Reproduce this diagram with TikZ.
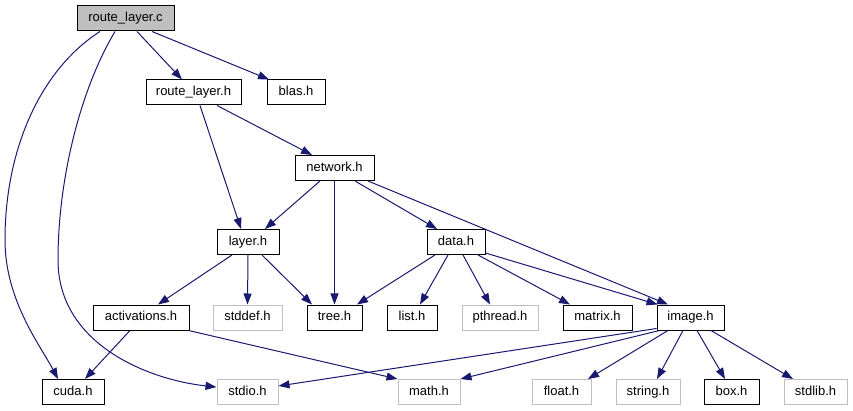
\documentclass[tikz,border=0pt]{standalone}
\usepackage{fontspec}
\setmainfont{Liberation Sans}
\usetikzlibrary{arrows.meta}
\definecolor{edgeblue}{HTML}{191970}
\definecolor{lightgray}{HTML}{BFBFBF}
\tikzset{
  filebox/.style={draw=black, line width=1pt, minimum height=25pt, inner sep=0pt, font=\fontsize{13}{15}\selectfont, text height=9.5pt, text depth=2.8pt},
  sysbox/.style={filebox, draw=lightgray},
  rootbox/.style={filebox, fill=lightgray},
  edge/.style={draw=edgeblue, line width=1pt, -{Triangle[length=11pt,width=8pt]}},
}
\begin{document}
\begin{tikzpicture}[x=1pt,y=-1pt]
\useasboundingbox (0,0) rectangle (853,411);
\node[rootbox, minimum width=97pt] (rlc) at (125.5,18.5) {route\_layer.c};
\node[filebox, minimum width=95pt] (rlh) at (193.5,92.5) {route\_layer.h};
\node[filebox, minimum width=58pt] (blas) at (296,92.5) {blas.h};
\node[filebox, minimum width=79pt] (net) at (334.5,168) {network.h};
\node[filebox, minimum width=62pt] (layer) at (248,242) {layer.h};
\node[filebox, minimum width=58pt] (data) at (456,242) {data.h};
\node[filebox, minimum width=96pt] (act) at (141,317.5) {activations.h};
\node[sysbox, minimum width=69pt] (stddef) at (247.5,317.5) {stddef.h};
\node[filebox, minimum width=55pt] (tree) at (334.5,317.5) {tree.h};
\node[filebox, minimum width=50pt] (list) at (412,317.5) {list.h};
\node[sysbox, minimum width=76pt] (pthread) at (500,317.5) {pthread.h};
\node[filebox, minimum width=69pt] (matrix) at (597.5,317.5) {matrix.h};
\node[filebox, minimum width=67pt] (image) at (690.5,317.5) {image.h};
\node[filebox, minimum width=62pt] (cuda) at (73,392) {cuda.h};
\node[sysbox, minimum width=61pt] (stdio) at (247.5,392) {stdio.h};
\node[sysbox, minimum width=62pt] (math) at (429,392) {math.h};
\node[sysbox, minimum width=59pt] (float) at (561.5,392) {float.h};
\node[sysbox, minimum width=64pt] (string) at (648,392) {string.h};
\node[filebox, minimum width=55pt] (box) at (731.5,392) {box.h};
\node[sysbox, minimum width=63pt] (stdlib) at (815.5,392) {stdlib.h};
% route_layer.c
\draw[edge] ([xshift=11.5pt]rlc.south) -- ([xshift=-11.5pt]rlh.north);
\draw[edge] ([xshift=26.5pt]rlc.south) -- ([xshift=-27pt]blas.north);
\draw[edge] ([xshift=-25.5pt]rlc.south) .. controls (40,70) and (5,150) .. (5,240) .. controls (5,300) and (40,345) .. ([xshift=-15pt]cuda.north);
\draw[edge] ([xshift=-10.5pt]rlc.south) .. controls (80,90) and (58,180) .. (58,260) .. controls (58,345) and (150,380) .. ([yshift=5pt]stdio.west);
% route_layer.h
\draw[edge] ([xshift=6.5pt]rlh.south) -- ([xshift=-7pt]layer.north);
\draw[edge] ([xshift=23.5pt]rlh.south) -- ([xshift=-22.5pt]net.north);
% network.h
\draw[edge] ([xshift=-14.5pt]net.south) -- ([xshift=17pt]layer.north);
\draw[edge] (net.south) -- (tree.north);
\draw[edge] ([xshift=20.5pt]net.south) -- ([xshift=-19pt]data.north);
\draw[edge] ([xshift=33.5pt]net.south) -- ([xshift=-22.5pt]image.north);
% data.h
\draw[edge] ([xshift=-21pt]data.south) -- ([xshift=22.5pt]tree.north);
\draw[edge] ([xshift=-8pt]data.south) -- ([xshift=8pt]list.north);
\draw[edge] ([xshift=7pt]data.south) -- ([xshift=-10pt]pthread.north);
\draw[edge] ([xshift=22pt]data.south) -- ([xshift=-27.5pt]matrix.north);
\draw[edge] ([yshift=2pt]data.south east) -- ([xshift=1pt]image.north west);
% layer.h
\draw[edge] ([xshift=-16pt]layer.south) -- ([xshift=17pt]act.north);
\draw[edge] (layer.south) -- (stddef.north);
\draw[edge] ([xshift=14pt]layer.south) -- ([xshift=-22.5pt]tree.north);
% activations.h
\draw[edge] ([xshift=-11pt]act.south) -- ([xshift=12pt]cuda.north);
\draw[edge] ([xshift=-1pt]act.south east) -- (math.north west);
% image.h
\draw[edge] ([yshift=2pt]image.south west) -- ([yshift=6pt]stdio.east);
\draw[edge] ([xshift=3pt]image.south west) -- (math.north east);
\draw[edge] ([xshift=-22.5pt]image.south) -- ([xshift=26.5pt]float.north);
\draw[edge] ([xshift=-7.5pt]image.south) -- ([xshift=9pt]string.north);
\draw[edge] ([xshift=6.5pt]image.south) -- ([xshift=-6.5pt]box.north);
\draw[edge] ([xshift=20.5pt]image.south) -- ([xshift=-22.5pt]stdlib.north);
\end{tikzpicture}
\end{document}
